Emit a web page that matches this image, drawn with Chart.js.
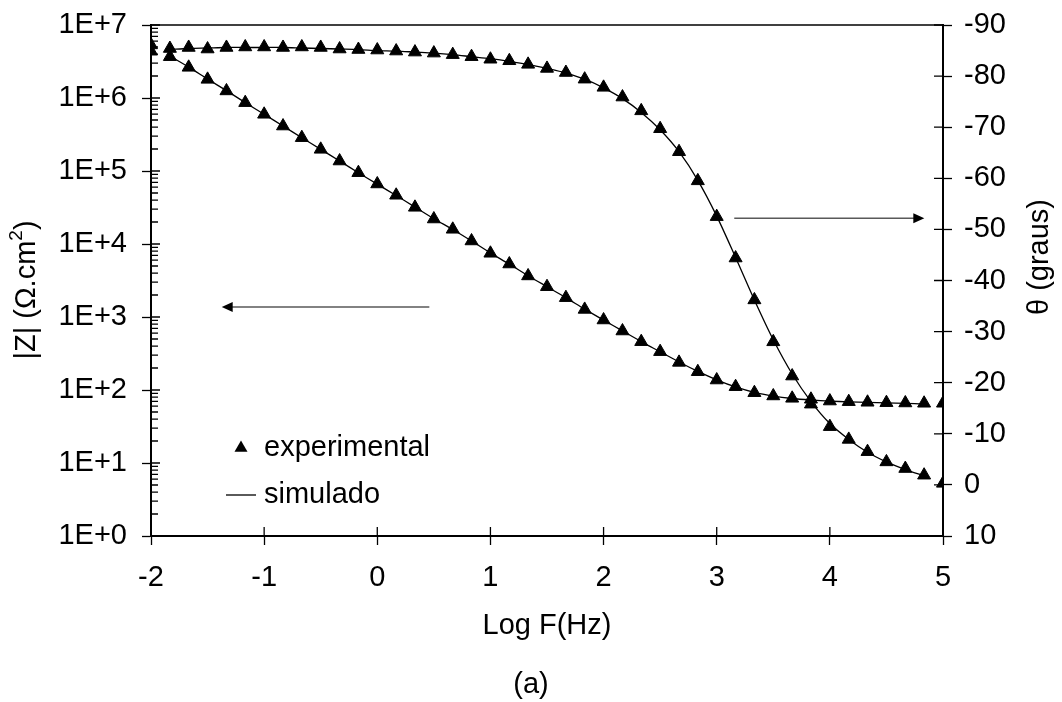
<!DOCTYPE html>
<html>
<head>
<meta charset="utf-8">
<script src="https://cdn.jsdelivr.net/npm/chart.js@4.4.1/dist/chart.umd.min.js"></script>
<style>
  html, body { margin: 0; padding: 0; background: #fff; }
  #wrap { width: 1062px; height: 702px; }
</style>
</head>
<body>
<div id="wrap"><canvas id="bode" width="1062" height="702"></canvas></div>
<script>
// Log F(Hz) of each measured point
const logF = [-2, -1.833, -1.667, -1.5, -1.333, -1.167, -1, -0.833, -0.667, -0.5, -0.333, -0.167,
    0, 0.167, 0.333, 0.5, 0.667, 0.833, 1, 1.167, 1.333, 1.5, 1.667, 1.833, 2, 2.167, 2.333, 2.5,
    2.667, 2.833, 3, 3.167, 3.333, 3.5, 3.667, 3.833, 4, 4.167, 4.333, 4.5, 4.667, 4.833, 5];

// experimental |Z| (ohm.cm2)
const expZ = [4.37e6, 3.68e6, 2.63e6, 1.80e6, 1.25e6, 8.63e5, 5.98e5, 4.13e5, 2.86e5, 1.98e5, 1.37e5, 9.48e4,
    6.64e4, 4.65e4, 3.18e4, 2.20e4, 1.59e4, 1.10e4, 7.46e3, 5.32e3, 3.65e3, 2.60e3, 1.84e3, 1.27e3,
    910, 643, 459, 335, 239, 178, 137, 111, 91.8, 82.8, 76.9, 74.6, 70.6, 69.2, 67.9, 67.0, 66.4, 65.8, 65.8];

// experimental phase (graus)
const expPhase = [-86.1, -85.4, -85.6, -85.3, -85.6, -85.7, -85.7, -85.6, -85.7, -85.6, -85.3, -85.2,
    -85.1, -84.9, -84.7, -84.5, -84.2, -83.8, -83.3, -83.0, -82.3, -81.5, -80.7, -79.4,
    -77.8, -75.9, -73.2, -69.7, -65.2, -59.5, -52.5, -44.4, -36.2, -28.0, -21.3, -15.8,
    -11.4, -8.9, -6.5, -4.5, -3.2, -1.9, -0.3];

// simulated curves (fit), from -1.833 to 4.833
const simLogF = logF.slice(1, 42);
const simZ = [3.75e6, 2.65e6, 1.82e6, 1.26e6, 8.65e5, 5.98e5, 4.13e5, 2.86e5, 1.98e5, 1.37e5, 9.48e4,
    6.60e4, 4.62e4, 3.20e4, 2.22e4, 1.58e4, 1.10e4, 7.55e3, 5.30e3, 3.68e3, 2.60e3, 1.84e3, 1.28e3,
    905, 645, 460, 334, 242, 180, 138, 110, 92.5, 82.5, 76.5, 73.0, 70.5, 68.8, 67.6, 66.6, 65.6, 64.2];
const simPhase = [-85.2, -85.4, -85.5, -85.6, -85.6, -85.6, -85.6, -85.5, -85.4, -85.3, -85.2,
    -85.0, -84.9, -84.7, -84.5, -84.2, -83.8, -83.4, -82.9, -82.3, -81.5, -80.6, -79.4,
    -77.7, -75.6, -72.9, -69.5, -65.2, -59.6, -52.6, -44.5, -36.2, -28.4, -21.7, -16.3,
    -12.0, -8.9, -6.4, -4.5, -3.0, -1.8];

// axis ticks
const xTicks = [-2, -1, 0, 1, 2, 3, 4, 5];
const zTicks = [1, 10, 100, 1e3, 1e4, 1e5, 1e6, 1e7];
const zTickLabels = ['1E+0', '1E+1', '1E+2', '1E+3', '1E+4', '1E+5', '1E+6', '1E+7'];
const phaseTicks = [-90, -80, -70, -60, -50, -40, -30, -20, -10, 0, 10];

// arrows pointing to each curve's axis (data coordinates)
const arrowZ = { y: 1370, from: 0.46, to: -1.375 };
const arrowPhase = { y: -52.2, from: 3.155, to: 4.835 };

const FONT = 'Liberation Sans, Arial, Helvetica, sans-serif';
const FS = 29;
Chart.defaults.font.family = FONT;
Chart.defaults.font.size = FS;
Chart.defaults.color = '#000';

const pts = (xs, ys) => xs.map((x, i) => ({ x: x, y: ys[i] }));

function drawTriangle(ctx, x, y, r) {
    ctx.beginPath();
    ctx.moveTo(x, y - r);
    ctx.lineTo(x + Math.sin(2 * Math.PI / 3) * r, y + r / 2);
    ctx.lineTo(x - Math.sin(2 * Math.PI / 3) * r, y + r / 2);
    ctx.closePath();
    ctx.fill();
}

function drawArrow(ctx, x1, x2, y) {
    const dir = x2 > x1 ? 1 : -1;
    ctx.strokeStyle = '#595959';
    ctx.fillStyle = '#000';
    ctx.lineWidth = 1.5;
    ctx.beginPath();
    ctx.moveTo(x1, y);
    ctx.lineTo(x2 - dir * 8, y);
    ctx.stroke();
    ctx.beginPath();
    ctx.moveTo(x2, y);
    ctx.lineTo(x2 - dir * 11, y - 5);
    ctx.lineTo(x2 - dir * 11, y + 5);
    ctx.closePath();
    ctx.fill();
}

// frame, inner ticks, minor log ticks, legend, arrows and side titles
const decorations = {
    id: 'decorations',
    beforeDatasetsDraw(chart) {
        const { ctx, chartArea: a, scales } = chart;
        ctx.save();
        ctx.strokeStyle = '#000';
        ctx.lineWidth = 1.5;
        ctx.beginPath();
        ctx.moveTo(a.left, a.top);
        ctx.lineTo(a.right, a.top);
        ctx.stroke();

        ctx.lineWidth = 1.3;
        ctx.beginPath();
        xTicks.forEach(v => {
            const px = scales.x.getPixelForValue(v);
            ctx.moveTo(px, a.bottom);
            ctx.lineTo(px, a.bottom - 9);
        });
        zTicks.forEach(v => {
            const py = scales.yZ.getPixelForValue(v);
            ctx.moveTo(a.left, py);
            ctx.lineTo(a.left + 9, py);
        });
        phaseTicks.forEach(v => {
            const py = scales.yPhase.getPixelForValue(v);
            ctx.moveTo(a.right, py);
            ctx.lineTo(a.right - 9, py);
        });
        for (let i = 0; i < zTicks.length - 1; i++) {
            for (let m = 2; m <= 9; m++) {
                const py = scales.yZ.getPixelForValue(zTicks[i] * m);
                ctx.moveTo(a.left, py);
                ctx.lineTo(a.left + 7, py);
            }
        }
        ctx.stroke();
        ctx.restore();
    },
    afterDraw(chart) {
        const { ctx, chartArea: a, scales } = chart;
        ctx.save();

        // arrows
        drawArrow(ctx, scales.x.getPixelForValue(arrowZ.from), scales.x.getPixelForValue(arrowZ.to),
            scales.yZ.getPixelForValue(arrowZ.y));
        drawArrow(ctx, scales.x.getPixelForValue(arrowPhase.from), scales.x.getPixelForValue(arrowPhase.to),
            scales.yPhase.getPixelForValue(arrowPhase.y));

        // legend
        const lx = a.left + 90, ly1 = a.top + 423, ly2 = a.top + 470;
        ctx.fillStyle = '#000';
        drawTriangle(ctx, lx, ly1, 7.5);
        ctx.strokeStyle = '#000';
        ctx.lineWidth = 1.3;
        ctx.beginPath();
        ctx.moveTo(lx - 15, ly2);
        ctx.lineTo(lx + 15, ly2);
        ctx.stroke();
        ctx.font = FS + 'px ' + FONT;
        ctx.textAlign = 'left';
        ctx.textBaseline = 'middle';
        ctx.fillText('experimental', lx + 23, ly1);
        ctx.fillText('simulado', lx + 23, ly2);

        // left title with superscript
        ctx.save();
        ctx.translate(27, 290);
        ctx.rotate(-Math.PI / 2);
        const main = '|Z| (\u03A9.cm', sup = '2', tail = ')';
        ctx.font = FS + 'px ' + FONT;
        const w1 = ctx.measureText(main).width, w3 = ctx.measureText(tail).width;
        ctx.font = '19px ' + FONT;
        const w2 = ctx.measureText(sup).width;
        let x0 = -(w1 + w2 + w3) / 2;
        ctx.font = FS + 'px ' + FONT;
        ctx.fillText(main, x0, 0);
        ctx.font = '19px ' + FONT;
        ctx.fillText(sup, x0 + w1, -10);
        ctx.font = FS + 'px ' + FONT;
        ctx.fillText(tail, x0 + w1 + w2, 0);
        ctx.restore();

        // right title
        ctx.save();
        ctx.translate(1040, 257);
        ctx.rotate(-Math.PI / 2);
        ctx.textAlign = 'center';
        ctx.fillText('\u03B8 (graus)', 0, 0);
        ctx.restore();

        ctx.restore();
    }
};

new Chart(document.getElementById('bode').getContext('2d'), {
    type: 'scatter',
    data: {
        datasets: [
            {
                label: 'experimental',
                data: pts(logF, expZ),
                yAxisID: 'yZ',
                pointStyle: 'triangle',
                pointRadius: 7.5,
                backgroundColor: '#000',
                borderColor: '#000',
                borderWidth: 1,
                order: 1
            },
            {
                label: 'experimental',
                data: pts(logF, expPhase),
                yAxisID: 'yPhase',
                pointStyle: 'triangle',
                pointRadius: 7.5,
                backgroundColor: '#000',
                borderColor: '#000',
                borderWidth: 1,
                order: 1
            },
            {
                label: 'simulado',
                data: pts(simLogF, simZ),
                yAxisID: 'yZ',
                showLine: true,
                pointRadius: 0,
                borderColor: '#000',
                borderWidth: 1.3,
                tension: 0.3,
                order: 2
            },
            {
                label: 'simulado',
                data: pts(simLogF, simPhase),
                yAxisID: 'yPhase',
                showLine: true,
                pointRadius: 0,
                borderColor: '#000',
                borderWidth: 1.3,
                tension: 0.3,
                order: 2
            }
        ]
    },
    options: {
        responsive: false,
        animation: false,
        devicePixelRatio: 1,
        layout: { padding: { top: 25, left: 0, right: 0, bottom: 0 } },
        plugins: {
            legend: { display: false },
            tooltip: { enabled: false },
            title: {
                display: true,
                text: '(a)',
                position: 'bottom',
                padding: 0,
                font: { size: FS, weight: 'normal', lineHeight: 1.2 }
            }
        },
        scales: {
            x: {
                type: 'linear',
                position: 'bottom',
                min: -2,
                max: 5,
                afterBuildTicks: axis => { axis.ticks = xTicks.map(v => ({ value: v })); },
                afterFit: axis => {
                    axis.height = 702 - 536 - FS * 1.2;
                    axis.paddingLeft = 0;
                    axis.paddingRight = 0;
                },
                ticks: { padding: 16, callback: v => String(v) },
                grid: { drawOnChartArea: false, tickLength: 9, tickColor: '#000', tickWidth: 1.3 },
                border: { color: '#000', width: 2 },
                title: { display: true, text: 'Log F(Hz)', padding: { top: 0, bottom: 24 } }
            },
            yZ: {
                type: 'logarithmic',
                position: 'left',
                min: 1,
                max: 1e7,
                afterBuildTicks: axis => { axis.ticks = zTicks.map(v => ({ value: v })); },
                afterFit: axis => {
                    axis.width = 151;
                    axis.paddingTop = 0;
                    axis.paddingBottom = 0;
                },
                ticks: { padding: 15, callback: (v, i) => zTickLabels[i] },
                grid: { drawOnChartArea: false, tickLength: 9, tickColor: '#000', tickWidth: 1.3 },
                border: { color: '#000', width: 2 }
            },
            yPhase: {
                type: 'linear',
                position: 'right',
                min: -90,
                max: 10,
                reverse: true,
                afterBuildTicks: axis => { axis.ticks = phaseTicks.map(v => ({ value: v })); },
                afterFit: axis => {
                    axis.width = 1062 - 943;
                    axis.paddingTop = 0;
                    axis.paddingBottom = 0;
                },
                ticks: { padding: 12, callback: v => String(v) },
                grid: { drawOnChartArea: false, tickLength: 9, tickColor: '#000', tickWidth: 1.3 },
                border: { color: '#000', width: 2 }
            }
        }
    },
    plugins: [decorations]
});
</script>
</body>
</html>
